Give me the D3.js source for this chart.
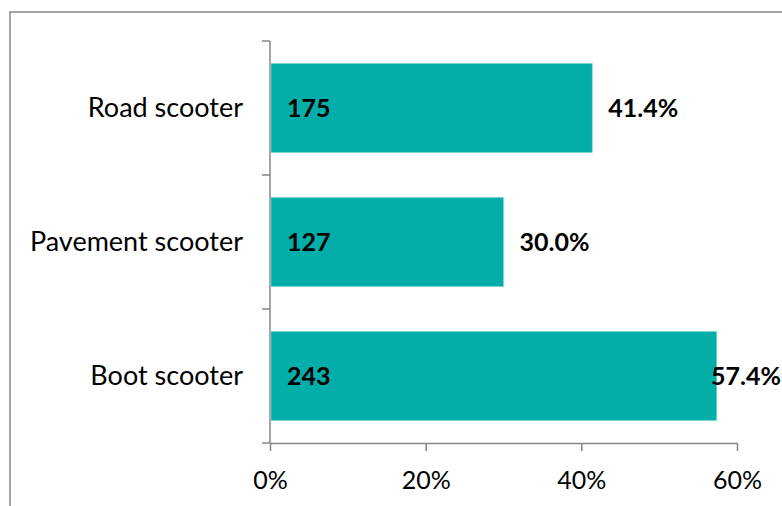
<!DOCTYPE html>
<html><head><meta charset="utf-8">
<script src="https://cdn.jsdelivr.net/npm/d3@7"></script>
<style>body{margin:0;background:#fff}svg{display:block}text{font-family:Lato,"Open Sans",sans-serif}</style>
</head><body>
<svg id="c" width="782" height="506"></svg>
<script>
const categories = ["Road scooter", "Pavement scooter", "Boot scooter"];
const counts = [175, 127, 243];
const percents = [41.4, 30.0, 57.4];
const xTicks = [0, 20, 40, 60];

const W = 782, H = 506;
const svg = d3.select("#c");
const m = {left: 270, right: 45, top: 41, bottom: 63};
const FS = 27;

// outer chart border
svg.append("rect").attr("x", 10).attr("y", 12).attr("width", 800).attr("height", 600)
  .attr("fill", "none").attr("stroke", "#868686").attr("stroke-width", 1.5);

const x = d3.scaleLinear().domain([0, 60]).range([m.left, W - m.right]);
const y = d3.scaleBand().domain(categories).range([m.top, H - m.bottom]).paddingInner(0.335).paddingOuter(0.1675);

const axisColor = "#868686";
// x axis
const xa = svg.append("g").attr("transform", `translate(0,${H - m.bottom})`)
  .call(d3.axisBottom(x).tickValues(xTicks).tickFormat(d => d + "%").tickSize(8).tickSizeOuter(0).tickPadding(20));
xa.select(".domain").attr("stroke", axisColor).attr("stroke-width", 1.5);
xa.selectAll(".tick line").attr("stroke", axisColor).attr("stroke-width", 1.5);
xa.selectAll(".tick text").attr("font-size", 25).attr("fill", "#000");

// y axis
const ya = svg.append("g").attr("transform", `translate(${m.left},0)`);
ya.append("line").attr("x1", 0).attr("x2", 0).attr("y1", m.top).attr("y2", H - m.bottom)
  .attr("stroke", axisColor).attr("stroke-width", 1.5);
ya.selectAll("line.tk").data([0,1,2,3]).join("line").attr("class", "tk")
  .attr("x1", -8).attr("x2", 0)
  .attr("y1", i => m.top + i * (H - m.bottom - m.top) / 3)
  .attr("y2", i => m.top + i * (H - m.bottom - m.top) / 3)
  .attr("stroke", axisColor).attr("stroke-width", 1.5);
ya.selectAll("text").data(categories).join("text")
  .attr("x", -27).attr("y", d => y(d) + y.bandwidth() / 2).attr("dy", "0.35em")
  .attr("text-anchor", "end").attr("font-size", FS).attr("fill", "#000").text(d => d);

// bars
svg.selectAll("rect.bar").data(categories).join("rect").attr("class", "bar")
  .attr("x", x(0) + 1).attr("y", d => y(d))
  .attr("width", (d, i) => x(percents[i]) - x(0) - 1).attr("height", y.bandwidth())
  .attr("fill", "#03ADA8").attr("stroke", "#8fd3d1").attr("stroke-width", 0.6);

// count labels
svg.selectAll("text.cnt").data(categories).join("text").attr("class", "cnt")
  .attr("x", x(0) + 17).attr("y", d => y(d) + y.bandwidth() / 2).attr("dy", "0.35em")
  .attr("font-size", 25).attr("font-weight", "bold").attr("fill", "#000")
  .text((d, i) => counts[i]);

// percent labels
const pl = svg.selectAll("text.pct").data(categories).join("text").attr("class", "pct")
  .attr("y", d => y(d) + y.bandwidth() / 2).attr("dy", "0.35em")
  .attr("font-size", 25).attr("font-weight", "bold").attr("fill", "#000")
  .text((d, i) => percents[i].toFixed(1) + "%");
pl.each(function(d, i) {
  const w = this.getComputedTextLength();
  d3.select(this).attr("x", Math.min(x(percents[i]) + 16, W - w - 1));
});
</script>
</body></html>
